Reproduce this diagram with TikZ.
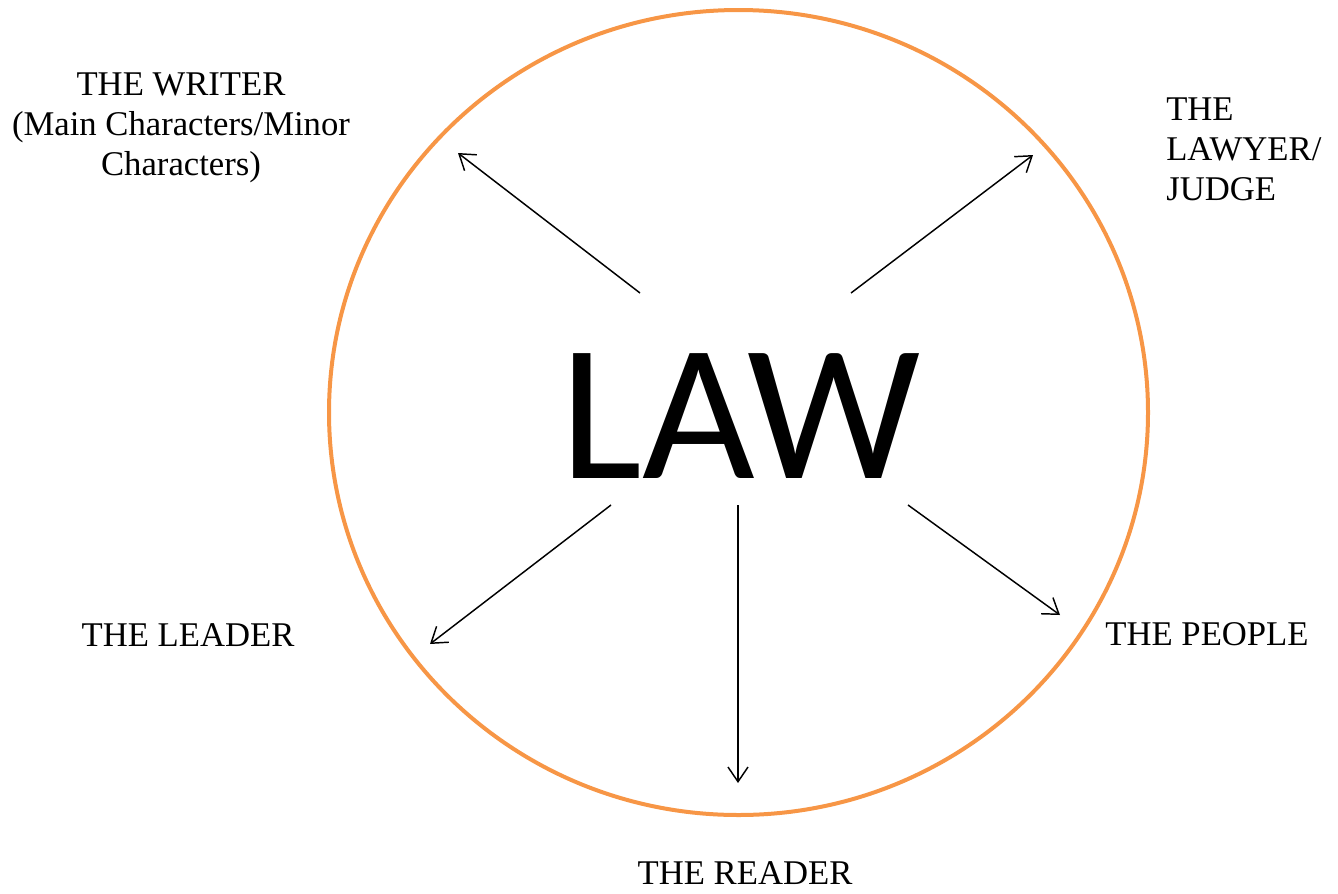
\documentclass[tikz,border=0pt]{standalone}
\usepackage{fontspec}
\setmainfont{Liberation Serif}
\newfontfamily\lawfont{Carlito}
\usetikzlibrary{arrows.meta}
\definecolor{circorange}{HTML}{F79646}
\tikzset{
  lbl/.style={font=\fontsize{26}{30}\selectfont, inner sep=0pt, anchor=base},
  arr/.style={draw=black, line width=1.1pt, -{Straight Barb[length=11pt,width=15pt,line width=1.1pt]}},
}
\begin{document}
\begin{tikzpicture}[x=0.75pt,y=-0.75pt]
\useasboundingbox (0,0) rectangle (1338,893);
\draw[circorange, line width=3pt] (738.5,412.5) ellipse [x radius=409.5, y radius=402.5];
\node[font=\lawfont\fontsize{146}{150}\selectfont, inner sep=0pt, anchor=base] (law) at (741,478) {LAW};
% labels (base anchor of a multi-line node = last line's baseline)
\node[lbl, align=center] (writer) at (181,175) {THE WRITER\\(Main Characters/Minor\\Characters)};
\node[lbl, align=left, anchor=base west] (lawyer) at (1166,200) {THE\\LAWYER/\\JUDGE};
\node[lbl] (leader) at (188,646) {THE LEADER};
\node[lbl] (people) at (1207,645) {THE PEOPLE};
\node[lbl] (reader) at (745,884) {THE READER};
% arrow endpoints
\coordinate (s1) at (640,293); \coordinate (e1) at (458,153);
\coordinate (s2) at (851,293); \coordinate (e2) at (1033,155);
\coordinate (s3) at (611,505); \coordinate (e3) at (430,644);
\coordinate (s4) at (738,505); \coordinate (e4) at (738,783);
\coordinate (s5) at (908,505); \coordinate (e5) at (1060,615);
\draw[arr] (s1) -- (e1);
\draw[arr] (s2) -- (e2);
\draw[arr] (s3) -- (e3);
\draw[arr] (s4) -- (e4);
\draw[arr] (s5) -- (e5);
\end{tikzpicture}
\end{document}
